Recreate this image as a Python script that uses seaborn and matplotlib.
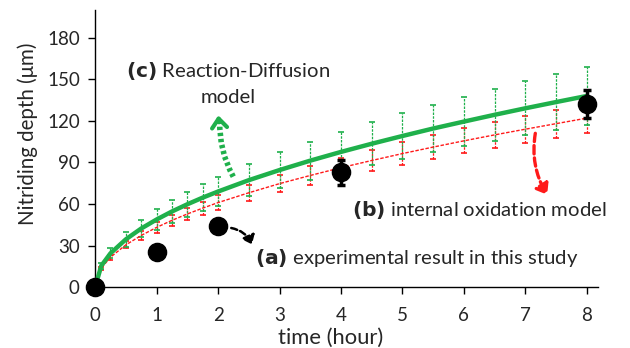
import matplotlib
matplotlib.use("Agg")
import matplotlib.pyplot as plt
import seaborn as sns
import pandas as pd
from matplotlib.patches import FancyArrowPatch

# ---- data ----
t_model = [0, 0.1, 0.25, 0.5, 0.75, 1, 1.25, 1.5, 1.75, 2, 2.5, 3, 3.5, 4, 4.5,
           5, 5.5, 6, 6.5, 7, 7.5, 8]
rd_model = [0, 15.4, 24.4, 34.5, 42.3, 48.8, 54.6, 59.8, 64.6, 69.0, 77.2, 84.5,
            91.3, 97.6, 103.5, 109.1, 114.5, 119.5, 124.4, 129.1, 133.6, 138.0]
rd_err = [0, 2.3, 3.7, 5.2, 6.3, 7.3, 8.2, 9.0, 9.7, 10.4, 11.6, 12.7,
          13.7, 14.6, 15.5, 16.4, 17.2, 17.9, 18.7, 19.4, 20.0, 20.7]
io_model = [0, 13.6, 21.6, 30.5, 37.3, 43.1, 48.2, 52.8, 57.0, 61.0, 68.1, 74.7,
            80.6, 86.2, 91.4, 96.4, 101.1, 105.6, 109.9, 114.0, 118.0, 122.0]
io_err = [0, 1.2, 1.8, 2.6, 3.2, 3.7, 4.1, 4.5, 4.8, 5.2, 5.8, 6.3,
          6.9, 7.3, 7.8, 8.2, 8.6, 9.0, 9.3, 9.7, 10.0, 10.4]
t_exp = [0, 1, 2, 4, 8]
d_exp = [0, 25, 44, 83, 132]
d_exp_err = [0, 1, 3, 9, 10]

x_ticks = [0, 1, 2, 3, 4, 5, 6, 7, 8]
y_ticks = [0, 30, 60, 90, 120, 150, 180]

GREEN = "#1fb04b"
RED = "#ff1a1a"

sns.set_theme(style="white")
plt.rcParams["font.family"] = ["Lato", "DejaVu Sans"]

fig = plt.figure(figsize=(6.3, 3.48), dpi=100)
ax = fig.add_axes([0.151, 0.175, 0.798, 0.796])

df_m = pd.DataFrame({"t": t_model, "rd": rd_model, "io": io_model})
df_e = pd.DataFrame({"t": t_exp, "d": d_exp})

# error bars of models (dashed)
eb1 = ax.errorbar(t_model, io_model, yerr=io_err, fmt="none", ecolor=RED,
                  elinewidth=0.9, capsize=2, capthick=1.2, zorder=2)
eb1[2][0].set_linestyle((0, (2, 1)))
eb2 = ax.errorbar(t_model, rd_model, yerr=rd_err, fmt="none", ecolor=GREEN,
                  elinewidth=0.9, capsize=2, capthick=1.2, zorder=2)
eb2[2][0].set_linestyle((0, (2, 1)))

sns.lineplot(data=df_m, x="t", y="io", ax=ax, color=RED, lw=1.0,
             linestyle=(0, (2.5, 1.2)), zorder=3)
sns.lineplot(data=df_m, x="t", y="rd", ax=ax, color=GREEN, lw=3.2, zorder=4)

# experimental points
ax.errorbar(t_exp, d_exp, yerr=d_exp_err, fmt="none", ecolor="black",
            elinewidth=2.5, capsize=3, capthick=2.5, zorder=5, clip_on=False)
sns.scatterplot(data=df_e, x="t", y="d", ax=ax, color="black", s=170,
                edgecolor="black", zorder=6, clip_on=False)

ax.set_xlim(0, 8.18)
ax.set_ylim(0, 200)
ax.set_xticks(x_ticks)
ax.set_yticks(y_ticks)
ax.tick_params(axis="both", direction="out", length=5, width=1, color="black",
               labelsize=13.5, bottom=True, left=True)
ax.tick_params(axis="x", pad=9)
ax.tick_params(axis="y", pad=6)
for s in ["top", "right"]:
    ax.spines[s].set_visible(False)
for s in ["left", "bottom"]:
    ax.spines[s].set_color("black")
    ax.spines[s].set_linewidth(1)
ax.set_xlabel("time (hour)", fontsize=15.8)
ax.set_ylabel("Nitriding depth (\u03bcm)", fontsize=14.8)
ax.xaxis.set_label_coords(0.468, -0.148)
ax.yaxis.set_label_coords(-0.114, 0.555)

# annotations
FS = 14.6
ax.text(0.5, 156, r"$\bf{(c)}$ Reaction-Diffusion", fontsize=FS,
        ha="left", va="center")
ax.text(2.16, 137, "model", fontsize=FS, ha="center", va="center")
ax.text(4.18, 56, r"$\bf{(b)}$ internal oxidation model", fontsize=FS,
        ha="left", va="center")
ax.text(2.6, 21, r"$\bf{(a)}$ experimental result in this study", fontsize=FS,
        ha="left", va="center")

# green dotted arrow with open chevron head
a1 = FancyArrowPatch((2.27, 78), (2.03, 122), connectionstyle="arc3,rad=-0.15",
                     arrowstyle="-", color=GREEN, lw=4,
                     linestyle=(0, (0.6, 0.5)), capstyle="butt", zorder=6)
ax.add_patch(a1)
ax.annotate("", xy=(2.0, 126), xytext=(2.02, 117),
            arrowprops=dict(arrowstyle="->,head_length=0.55,head_width=0.45",
                            color=GREEN, lw=3), zorder=6)

a2 = FancyArrowPatch((7.17, 113), (7.38, 65), connectionstyle="arc3,rad=0.2",
                     arrowstyle="-|>,head_length=6,head_width=4.5",
                     color=RED, lw=2.4, linestyle=(0, (2.5, 1.2)),
                     mutation_scale=1, zorder=6)
ax.add_patch(a2)
a3 = FancyArrowPatch((2.17, 43), (2.57, 29), connectionstyle="arc3,rad=-0.3",
                     arrowstyle="-|>,head_length=5,head_width=4",
                     color="black", lw=1.8, linestyle=(0, (2.5, 1.2)),
                     mutation_scale=1, zorder=6)
ax.add_patch(a3)

fig.savefig("out.png", dpi=100)
